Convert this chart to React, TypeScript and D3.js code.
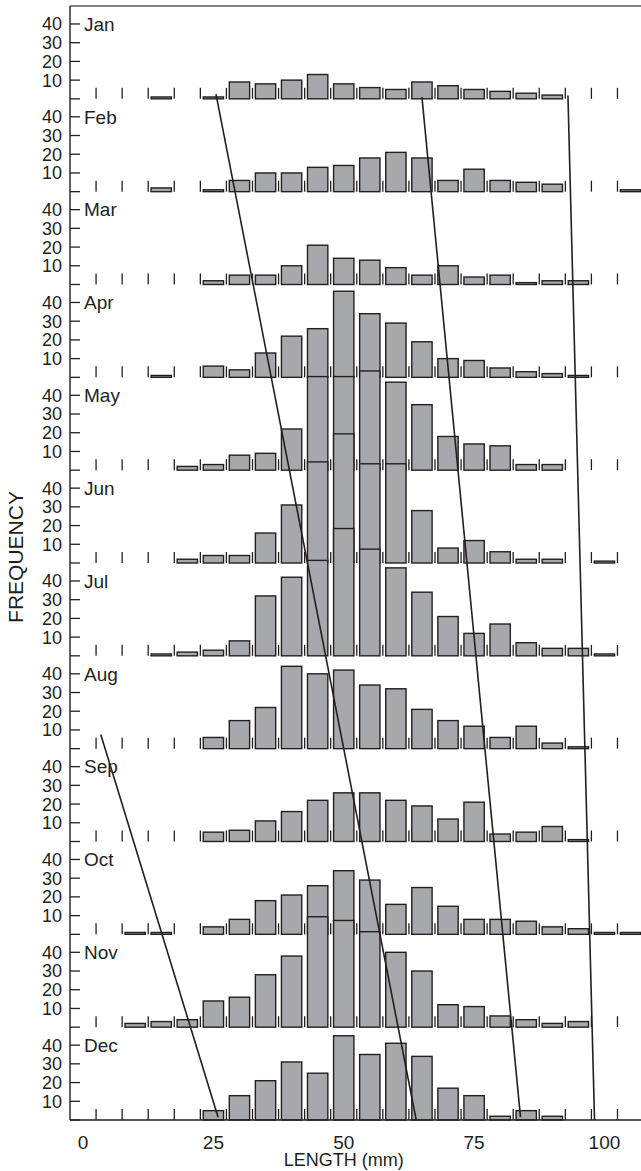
import * as d3 from "d3";

const months = ["Jan", "Feb", "Mar", "Apr", "May", "Jun", "Jul", "Aug", "Sep", "Oct", "Nov", "Dec"];
// length classes (mm), bar centres
const bins = [5, 10, 15, 20, 25, 30, 35, 40, 45, 50, 55, 60, 65, 70, 75, 80, 85, 90, 95, 100, 105];

const janCounts = [0, 0, 1, 0, 1, 9, 8, 10, 13, 8, 6, 5, 9, 7, 5, 4, 3, 2, 0, 0, 0];
const febCounts = [0, 0, 2, 0, 1, 6, 10, 10, 13, 14, 18, 21, 18, 6, 12, 6, 5, 4, 0, 0, 1];
const marCounts = [0, 0, 0, 0, 2, 5, 5, 10, 21, 14, 13, 9, 5, 10, 4, 5, 1, 2, 2, 0, 0];
const aprCounts = [0, 0, 1, 0, 6, 4, 13, 22, 26, 46, 34, 29, 19, 10, 9, 5, 3, 2, 1, 0, 0];
const mayCounts = [0, 0, 0, 2, 3, 8, 9, 22, 50, 50, 53, 47, 35, 18, 14, 13, 3, 3, 0, 0, 0];
const junCounts = [0, 0, 0, 2, 4, 4, 16, 31, 54, 69, 53, 53, 28, 8, 12, 6, 2, 2, 0, 1, 0];
const julCounts = [0, 0, 1, 2, 3, 8, 32, 42, 51, 68, 57, 47, 34, 21, 12, 17, 7, 4, 4, 1, 0];
const augCounts = [0, 0, 0, 0, 6, 15, 22, 44, 40, 42, 34, 32, 21, 15, 12, 6, 12, 3, 1, 0, 0];
const sepCounts = [0, 0, 0, 0, 5, 6, 11, 16, 22, 26, 26, 22, 19, 12, 21, 4, 5, 8, 1, 0, 0];
const octCounts = [0, 1, 1, 0, 4, 8, 18, 21, 26, 34, 29, 16, 25, 15, 8, 8, 7, 4, 3, 1, 1];
const novCounts = [0, 2, 3, 4, 14, 16, 28, 38, 59, 57, 51, 40, 30, 12, 11, 6, 4, 2, 3, 0, 0];
const decCounts = [0, 0, 0, 0, 5, 13, 21, 31, 25, 45, 35, 41, 34, 17, 13, 2, 5, 2, 0, 0, 0];

const counts = [janCounts, febCounts, marCounts, aprCounts, mayCounts, junCounts,
  julCounts, augCounts, sepCounts, octCounts, novCounts, decCounts];

const freqTicks = [0, 10, 20, 30, 40];
const lengthTicks = [0, 25, 50, 75, 100];

// cohort lines: [month index, length mm, height above baseline]
const cohortLines = [
  [[0, 25.5, 2.5], [11, 63.9, 0]],
  [[0, 65.0, 0.9], [11, 83.9, 1.5]],
  [[0, 93.0, 1.8], [11, 98.1, 0]],
  [[7, 3.4, 7.6], [11, 25.9, 1.5]],
];

const ink = "#231f20";
const font = "'Liberation Sans', Arial, sans-serif";

export default function App() {
  const width = 641;
  const height = 1171;
  const left = 70;
  const top = 6;
  const bottom = 1120;

  const x = d3.scaleLinear().domain([-2.5, 110]).range([left, left + 112.5 * 5.214]);
  const band = d3.scaleBand().domain(months).range([top, bottom]);
  const bh = band.bandwidth();
  const y = d3.scaleLinear().domain([0, 49.6]).range([bh, 0]);
  const edges = d3.range(2.5, 110, 5);
  const tickLen = 11;

  const line = d3
    .line()
    .x((d) => x(d[1]))
    .y((d) => band(months[d[0]]) + y(d[2]));

  return (
    <svg
      width={width}
      height={height}
      style={{ position: "absolute", left: 0, top: 0, background: "#fff" }}
      fontFamily={font}
    >
      {months.map((m, i) => {
        const y0 = band(m);
        const base = y0 + bh;
        return (
          <g key={m}>
            {edges.map((e) => (
              <line key={e} x1={x(e)} x2={x(e)} y1={base} y2={base - tickLen} stroke={ink} strokeWidth={1.3} />
            ))}
            {bins.map((b, j) =>
              counts[i][j] > 0 ? (
                <rect
                  key={b}
                  x={x(b - 1.95)}
                  width={x(b + 1.95) - x(b - 1.95)}
                  y={y0 + y(counts[i][j])}
                  height={bh - y(counts[i][j])}
                  fill="#a7a8ab"
                  stroke={ink}
                  strokeWidth={1.4}
                />
              ) : null
            )}
            {freqTicks.map((t) => (
              <line key={t} x1={left} x2={left + 10} y1={y0 + y(t)} y2={y0 + y(t)} stroke={ink} strokeWidth={1.3} />
            ))}
            {freqTicks.filter((t) => t > 0).map((t) => (
              <text key={t} x={left - 8} y={y0 + y(t)} dy="0.36em" textAnchor="end" fontSize={18} fill={ink}>
                {t}
              </text>
            ))}
            <text x={left + 14} y={y0 + y(40)} dy="0.36em" fontSize={19} fill={ink}>
              {m}
            </text>
          </g>
        );
      })}

      {cohortLines.map((pts, k) => (
        <path key={k} d={line(pts)} fill="none" stroke={ink} strokeWidth={1.6} />
      ))}

      <line x1={left} x2={width} y1={top} y2={top} stroke="#555" strokeWidth={1.6} />
      <line x1={left} x2={left} y1={top} y2={bottom} stroke={ink} strokeWidth={1.4} />
      <line x1={left} x2={width} y1={bottom} y2={bottom} stroke={ink} strokeWidth={1.6} />

      {lengthTicks.map((t) => (
        <text key={t} x={x(t)} y={bottom + 22} dy="0.36em" textAnchor="middle" fontSize={19} fill={ink}>
          {t}
        </text>
      ))}
      <text x={x(50)} y={bottom + 40} dy="0.36em" textAnchor="middle" fontSize={18} fill={ink}>
        LENGTH (mm)
      </text>
      <text
        transform={`translate(15,${557}) rotate(-90)`}
        dy="0.36em"
        textAnchor="middle"
        fontSize={21}
        fill={ink}
      >
        FREQUENCY
      </text>
    </svg>
  );
}
